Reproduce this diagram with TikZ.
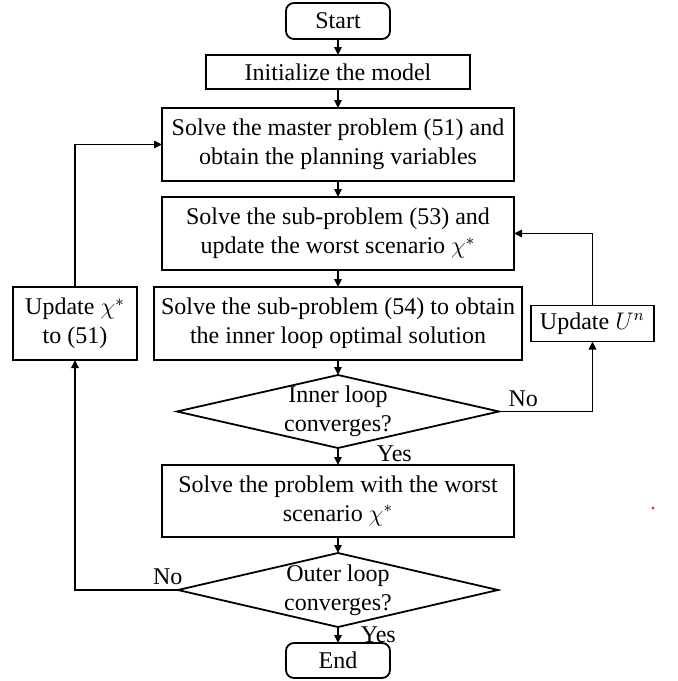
\documentclass[tikz,border=0pt]{standalone}
\usepackage{amsmath,amssymb}
\usepackage{fontspec}
\setmainfont{Liberation Serif}
\usepackage{tikz}
\usetikzlibrary{arrows.meta,positioning,shapes.geometric}
\begin{document}
\begin{tikzpicture}[
  font=\fontsize{12}{14.5}\selectfont, >={Triangle[length=4pt, width=3.6pt]},
  line width=0.9pt,
  box/.style={draw, line width=0.9pt, align=center, inner sep=2pt, outer sep=0pt, minimum height=36.5pt},
  term/.style={box, rounded corners=4pt, minimum width=52pt, minimum height=18pt},
  dec/.style={draw, line width=0.9pt, diamond, aspect=4.4, inner sep=-3pt, outer sep=0pt, align=center, minimum width=161pt, minimum height=36.5pt},
  lab/.style={inner sep=2pt}]
\useasboundingbox (0,0) rectangle (338.5pt,-340.5pt);
\node[term] (start) at (169pt,-10.5pt) {Start};
\node[box, below=8pt of start, minimum width=132pt, minimum height=17pt] (init) {Initialize the model};
\node[box, below=9.5pt of init, minimum width=176pt] (master) {Solve the master problem (51) and\\obtain the planning variables};
\node[box, below=8pt of master, minimum width=176pt] (sub53) {Solve the sub-problem (53) and\\update the worst scenario $\chi^{*}$};
\node[box, below=8.5pt of sub53, minimum width=184pt] (sub54) {Solve the sub-problem (54) to obtain\\the inner loop optimal solution};
\node[box, left=8.5pt of sub54, minimum width=62pt] (updchi) {Update $\chi^{*}$\\to (51)};
\node[box, right=4.5pt of sub54, minimum width=61.5pt, minimum height=18pt] (updu) {Update $U^{n}$};
\node[dec, below=7.5pt of sub54] (inner) {Inner loop\\converges?};
\node[box, below=8.5pt of inner, minimum width=176pt, minimum height=36pt] (solve) {Solve the problem with the worst\\scenario $\chi^{*}$};
\node[dec, below=8pt of solve, minimum width=160pt, minimum height=37pt] (outer) {Outer loop\\converges?};
\node[term, below=8pt of outer, minimum height=17.5pt] (end) {End};
\draw[->] (start) -- (init);
\draw[->] (init) -- (master);
\draw[->] (master) -- (sub53);
\draw[->] (sub53) -- (sub54);
\draw[->] (sub54) -- (inner);
\draw[->] (inner) -- node[lab, right=17pt, pos=0.35]{Yes} (solve);
\draw[->] (solve) -- (outer);
\draw[->] (outer) -- node[lab, right=9pt]{Yes} (end);
\draw[->] (inner.east) -| node[lab, pos=0.13, above]{No} (updu.south);
\draw[->] (updu.north) |- (sub53.east);
\draw[->] (outer.west) -| node[lab, pos=0.05, above]{No} (updchi.south);
\draw[->] (updchi.north) |- (master.west);
\fill[red] (326.5pt,-254pt) circle (0.7pt);
\end{tikzpicture}
\end{document}
